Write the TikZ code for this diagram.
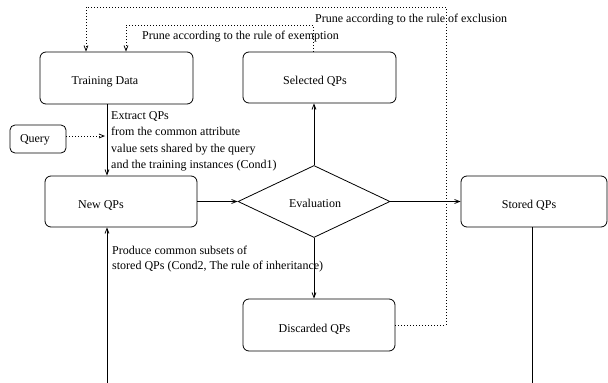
\documentclass[tikz,border=0pt]{standalone}
\usepackage{fontspec}
\setmainfont{Liberation Serif}
\usetikzlibrary{shapes.geometric,arrows.meta}
\begin{document}
\begin{tikzpicture}[x=1pt,y=-1pt,
  every node/.style={font=\fontsize{12}{16}\selectfont},
  box/.style={draw,rounded corners=6pt,line width=0.8pt,inner sep=0pt},
  lbl/.style={inner sep=0pt},
  tip/.style={-{Straight Barb[length=5pt,width=4pt]}},
  conn/.style={line width=0.8pt,tip},
  plain/.style={line width=0.8pt},
  dots/.style={line width=0.8pt,dash pattern=on 0.8pt off 2.2pt,tip}]
\useasboundingbox (0,0) rectangle (608,383);

\node[box,minimum width=153pt,minimum height=52pt,
  label={[lbl,xshift=-11.5pt,yshift=-4pt]center:Training Data}] (train) at (116.5,78) {};
\node[box,minimum width=153pt,minimum height=51pt,
  label={[lbl,xshift=-4.5pt,yshift=-4pt]center:Selected QPs}] (sel) at (319.5,77.5) {};
\node[box,rounded corners=5pt,minimum width=56pt,minimum height=28pt,
  label={[lbl,xshift=-3pt,yshift=-1pt]center:Query}] (query) at (38,139) {};
\node[box,minimum width=152pt,minimum height=51pt,
  label={[lbl,xshift=-20pt,yshift=-4pt]center:New QPs}] (new) at (121,201.5) {};
\node[draw,diamond,line width=0.8pt,inner sep=0pt,minimum width=152pt,minimum height=72pt,
  label={[lbl,xshift=1pt,yshift=-2pt]center:Evaluation}] (dia) at (314,201.5) {};
\node[box,minimum width=146pt,minimum height=51pt,
  label={[lbl,xshift=-5pt,yshift=-4pt]center:Stored QPs}] (stored) at (534,201.5) {};
\node[box,minimum width=152pt,minimum height=52pt,
  label={[lbl,xshift=-4.5pt,yshift=-4pt]center:Discarded QPs}] (disc) at (319,325) {};

% text labels
\node[lbl,anchor=west] (excl) at (315,20) {Prune according to the rule of exclusion};
\node[lbl,anchor=west] (exem) at (142,37) {Prune according to the rule of exemption};
\node[lbl,anchor=north west,align=left,font=\fontsize{12}{16.5}\selectfont] (extr) at (111,111)
  {Extract QPs\\from the common attribute\\value sets shared by the query\\and the training instances (Cond1)};
\node[lbl,anchor=north west,align=left,font=\fontsize{12}{15}\selectfont] (prod) at (112,246)
  {Produce common subsets of\\stored QPs (Cond2, The rule of inheritance)};

% coordinates
\coordinate (vl) at (107,0);
\coordinate (bl) at (107,383);
\coordinate (br) at (532,383);
\coordinate (qend) at (105,136);
\coordinate (c1) at (446,7);
\coordinate (c2) at (86,7);
\coordinate (d1) at (313,25);
\coordinate (d2) at (126,25);

% connectors
\draw[conn] (train.south -| vl) -- (new.north -| vl);
\draw[dots] (query.east |- qend) -- (qend);
\draw[conn] (new.east) -- (dia.west);
\draw[conn] (dia.north) -- (sel.south -| dia.north);
\draw[conn] (dia.east) -- (stored.west);
\draw[conn] (dia.south) -- (disc.north -| dia.south);
\draw[conn] (bl) -- (new.south -| bl);
\draw[plain] (stored.south -| br) -- (br);
\draw[dots] (disc.east) -- (disc.east -| c1) -- (c1) -- (c2) -- (train.north -| c2);
\draw[dots] (sel.north -| d1) -- (d1) -- (d2) -- (train.north -| d2);
\end{tikzpicture}
\end{document}
